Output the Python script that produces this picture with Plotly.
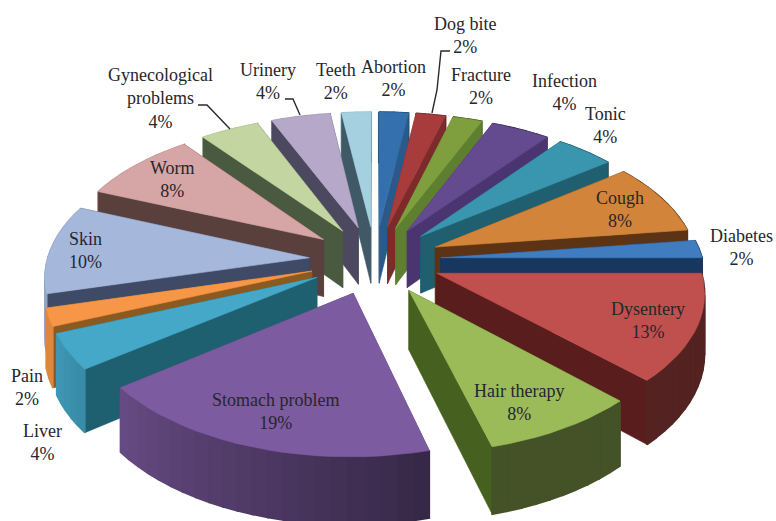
import math
import plotly.graph_objects as go

# Data (values are counts out of 48; percentages on labels derive from them)
categories = ["Abortion", "Dog bite", "Fracture", "Infection", "Tonic", "Cough", "Diabetes",
              "Dysentery", "Hair therapy", "Stomach problem", "Liver", "Pain", "Skin", "Worm",
              "Gynecological<br>problems", "Urinery", "Teeth"]
counts = [1, 1, 1, 2, 2, 4, 1, 6, 4, 9, 2, 1, 5, 4, 2, 2, 1]

top_colors = ["#3470ae", "#a83c3c", "#7f9f3f", "#644a8f", "#3a95ae", "#d2843a", "#3f7cc0",
              "#c0504d", "#9bbb59", "#7d5ba0", "#45a8c8", "#f79646", "#a5b8db", "#d6a5a5",
              "#c3d5a0", "#b5a8c8", "#a5d0df"]
wall_colors = ["#2b5a8a", "#7c2a2a", "#5f7f30", "#4a3570", "#1f5f70", "#5c3415", "#17375f",
               "#5a1d1d", "#46601f", "#5c4580", "#1f6070", "#8a5a20", "#3f4a66", "#5a403c",
               "#4a5a40", "#4c4860", "#3f5a66"]

label_x = [393, 465, 481, 564, 605, 620, 741, 648, 519, 275, 42, 27, 85, 172, 160, 268, 336]
label_y = [78, 35, 86, 92, 125, 209, 247, 320, 402, 411, 442, 387, 250, 179, 98, 81, 81]

# Leader lines
leaders = [([432, 437, 441, 450], [113, 90, 51, 51]),
           ([300, 293, 285], [115, 99, 99]),
           ([230, 207, 198], [129, 105, 105])]

# Projection of the exploded 3D pie
CX, CY = 375, 260
R, EXPL = 262, 66
K, D, H = 0.518, 2220, 58


def project(X, Z, lower=False):
    f = 1 / (1 - Z / D)
    y = CY + Z * K * f
    if lower:
        y += H * f
    return CX + X * f, y


def hex2rgb(c):
    return [int(c[i:i + 2], 16) for i in (1, 3, 5)]


def scale(c, s):
    return "rgb(%d,%d,%d)" % tuple(min(255, int(v * s)) for v in hex2rgb(c))


def rim_shade(a):
    t = max(0.0, min(1.0, (a - 165) / 80))
    return 0.44 + 0.46 * t


total = sum(counts)
slices = []
start = 0.0
for i, c in enumerate(counts):
    sweep = 360 * c / total
    slices.append((i, start, start + sweep))
    start += sweep


def offset(a0, a1):
    m = math.radians((a0 + a1) / 2)
    return EXPL * math.sin(m), -EXPL * math.cos(m)


slices.sort(key=lambda s: offset(s[1], s[2])[1])

fig = go.Figure()


def face(pts, color, width=0.6):
    fig.add_trace(go.Scatter(x=[p[0] for p in pts] + [pts[0][0]], y=[p[1] for p in pts] + [pts[0][1]],
                             mode="lines", fill="toself", fillcolor=color,
                             line=dict(color=color, width=width), hoverinfo="skip", showlegend=False))


for i, a0, a1 in slices:
    ox, oz = offset(a0, a1)
    n = max(2, int((a1 - a0) / 3))
    angs = [a0 + (a1 - a0) * j / n for j in range(n + 1)]
    plane = [(ox + R * math.sin(math.radians(a)), oz - R * math.cos(math.radians(a))) for a in angs]
    faces = []
    # radial walls
    for (X, Z) in (plane[0], plane[-1]):
        pts = [project(ox, oz), project(X, Z), project(X, Z, True), project(ox, oz, True)]
        faces.append(((oz + Z) / 2, pts, wall_colors[i], 0.6))
    # rim
    for j in range(n):
        X0, Z0 = plane[j]
        X1, Z1 = plane[j + 1]
        pts = [project(X0, Z0), project(X1, Z1), project(X1, Z1, True), project(X0, Z0, True)]
        am = (angs[j] + angs[j + 1]) / 2
        faces.append(((Z0 + Z1) / 2, pts, scale(top_colors[i], rim_shade(am)), 1.6))
    faces.sort(key=lambda t: t[0])
    for _, pts, col, w in faces:
        face(pts, col, w)
    top = [project(ox, oz)] + [project(X, Z) for X, Z in plane]
    face(top, top_colors[i])

for lx, ly in leaders:
    fig.add_trace(go.Scatter(x=lx, y=ly, mode="lines", line=dict(color="#2a2a2a", width=1.4),
                             hoverinfo="skip", showlegend=False))

for name, c, x, y in zip(categories, counts, label_x, label_y):
    pct = int(100 * c / total + 0.5)
    fig.add_annotation(x=x, y=y, text=f"{name}<br>{pct}%", showarrow=False, xref="x", yref="y",
                       font=dict(family="Liberation Serif", size=18, color="#26262e"), align="center")

fig.update_xaxes(range=[0, 776], visible=False, fixedrange=True)
fig.update_yaxes(range=[521, 0], visible=False, fixedrange=True)
fig.update_layout(width=776, height=521, margin=dict(l=0, r=0, t=0, b=0),
                  paper_bgcolor="white", plot_bgcolor="white", showlegend=False)
fig.write_html("out.html", config={"displayModeBar": False},
               post_script="document.body.style.margin='0';document.body.style.overflow='hidden';")
